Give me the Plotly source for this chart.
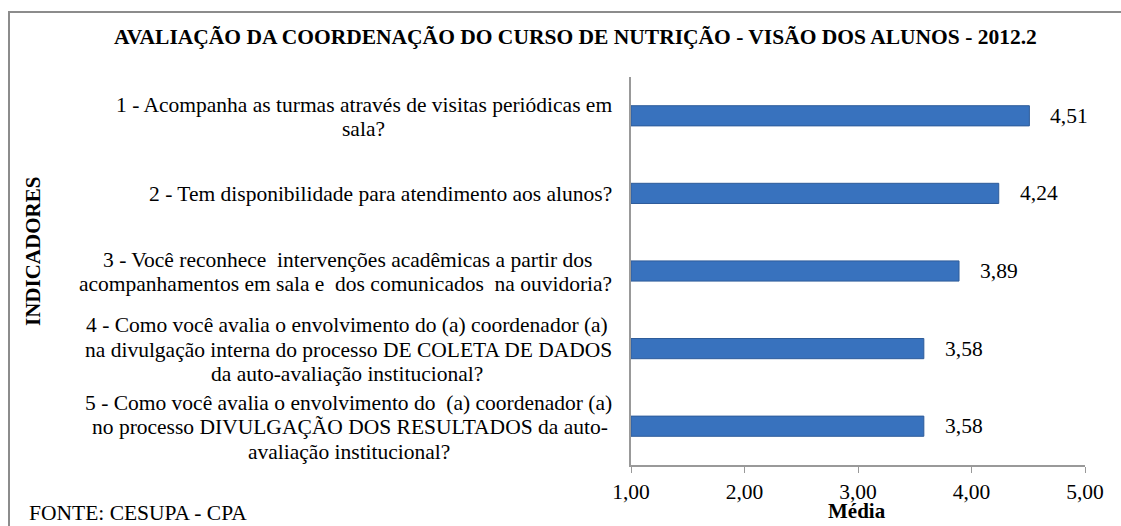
import plotly.graph_objects as go

categories = [
    "1 - Acompanha as turmas através de visitas periódicas em<br>sala?",
    "2 - Tem disponibilidade para atendimento aos alunos?",
    "3 - Você reconhece  intervenções acadêmicas a partir dos<br>acompanhamentos em sala e  dos comunicados  na ouvidoria?",
    "4 - Como você avalia o envolvimento do (a) coordenador (a)<br>na divulgação interna do processo DE COLETA DE DADOS<br>da auto-avaliação institucional?",
    "5 - Como você avalia o envolvimento do  (a) coordenador (a)<br>no processo DIVULGAÇÃO DOS RESULTADOS da auto-<br>avaliação institucional?",
]
values = [4.51, 4.24, 3.89, 3.58, 3.58]
value_labels = ["4,51", "4,24", "3,89", "3,58", "3,58"]
tick_vals = [1, 2, 3, 4, 5]
tick_text = ["1,00", "2,00", "3,00", "4,00", "5,00"]

FONT = "Times New Roman, Liberation Serif, DejaVu Serif, serif"
FS = 21.5
LINE_H = 24.5
W, H = 1121, 526
ML, MR, MT, MB = 631, 36, 77, 61
PW, PH = W - ML - MR, H - MT - MB

# Times-Roman advance widths (1/1000 em) used to centre multi-line labels
_TW = {" ": 250, "-": 333, "?": 444, "(": 333, ")": 333, ",": 250, ".": 250, ":": 278}
_TW.update({d: 500 for d in "0123456789"})
_TW.update(dict(zip("ABCDEFGHIJKLMNOPQRSTUVWXYZ",
                    [722, 667, 667, 722, 611, 556, 722, 722, 333, 389, 722, 611, 889,
                     722, 722, 556, 722, 667, 556, 611, 722, 722, 944, 722, 722, 611])))
_TW.update(dict(zip("abcdefghijklmnopqrstuvwxyz",
                    [444, 500, 444, 500, 444, 333, 500, 500, 278, 278, 500, 278, 778,
                     500, 500, 500, 500, 333, 389, 278, 500, 500, 722, 500, 500, 444])))
_ACC = {"á": "a", "ã": "a", "â": "a", "é": "e", "ê": "e", "í": "i", "ó": "o", "ô": "o",
        "ú": "u", "ç": "c", "Ç": "C", "Ã": "A", "Á": "A", "É": "E"}


def text_w(s):
    return sum(_TW.get(_ACC.get(ch, ch), 500) for ch in s) * FS / 1000


def px_x(px):
    return (px - ML) / PW


def px_y(py):
    return (H - MB - py) / PH


keys = [str(i) for i in range(len(categories))]

fig = go.Figure()
fig.add_trace(go.Bar(
    x=[v - 1 for v in values], base=1, y=keys, orientation="h",
    marker=dict(color="#3872BE", line=dict(color="#2E5C9A", width=1)),
    width=0.26, hoverinfo="skip",
))

annotations = []
for k, c in zip(keys, categories):
    lines = c.split("<br>")
    n = len(lines)
    maxw = max(text_w(ln) for ln in lines)
    for i, ln in enumerate(lines):
        annotations.append(dict(
            x=0, xref="paper", y=k, yref="y", text=ln, showarrow=False,
            xanchor="right", yanchor="middle",
            xshift=-17 - (maxw - text_w(ln)) / 2,
            yshift=-(i - (n - 1) / 2) * LINE_H - 1,
            font=dict(family=FONT, size=FS, color="#000"),
        ))
for k, v, t in zip(keys, values, value_labels):
    annotations.append(dict(
        x=v, xref="x", y=k, yref="y", text=t, showarrow=False,
        xanchor="left", yanchor="middle", xshift=19,
        font=dict(family=FONT, size=FS, color="#000"),
    ))
annotations += [
    dict(x=px_x(33), y=px_y(252), xref="paper", yref="paper", text="<b>INDICADORES</b>",
         textangle=-90, xanchor="center", yanchor="middle", showarrow=False,
         font=dict(family=FONT, size=21, color="#000")),
    dict(x=px_x(857), y=px_y(511), xref="paper", yref="paper", text="<b>Média</b>",
         xanchor="center", yanchor="middle", showarrow=False,
         font=dict(family=FONT, size=21, color="#000")),
    dict(x=px_x(27), y=px_y(513), xref="paper", yref="paper", text="FONTE: CESUPA - CPA",
         xanchor="left", yanchor="middle", showarrow=False,
         font=dict(family=FONT, size=FS, color="#000")),
    dict(x=px_x(575), y=px_y(37), xref="paper", yref="paper",
         text="<b>AVALIAÇÃO DA COORDENAÇÃO DO CURSO DE NUTRIÇÃO - VISÃO DOS ALUNOS - 2012.2</b>",
         xanchor="center", yanchor="middle", showarrow=False,
         font=dict(family=FONT, size=FS, color="#000")),
]

fig.update_layout(
    width=W, height=H,
    margin=dict(l=ML, r=MR, t=MT, b=MB),
    paper_bgcolor="white", plot_bgcolor="white",
    showlegend=False,
    annotations=annotations,
    shapes=[dict(type="rect", xref="paper", yref="paper",
                 x0=px_x(9), x1=px_x(1200), y0=px_y(600), y1=px_y(12),
                 line=dict(color="#8C8C8C", width=2), fillcolor="rgba(0,0,0,0)", layer="below")],
    xaxis=dict(range=[1, 5], tickvals=tick_vals, ticktext=tick_text,
               showgrid=False, zeroline=False, showline=True, linecolor="#999999", linewidth=1.5,
               ticks="outside", ticklen=6, tickcolor="#999999", ticklabelstandoff=0,
               tickfont=dict(family=FONT, size=FS, color="#000")),
    yaxis=dict(categoryorder="array", categoryarray=keys, autorange="reversed",
               showticklabels=False, showgrid=False, zeroline=False,
               showline=True, linecolor="#999999", linewidth=2),
)

fig.write_html("out.html", config={"displayModeBar": False},
               post_script="document.body.style.margin='0';document.body.style.overflow='hidden';")
